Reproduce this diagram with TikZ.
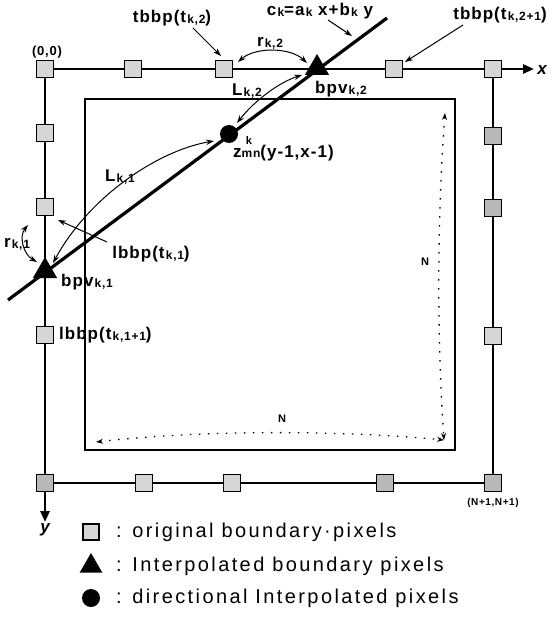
\documentclass[tikz,border=0pt]{standalone}
\usepackage{fontspec}
\setmainfont{Liberation Sans}
\newfontfamily\legfont[LetterSpace=12]{Liberation Sans}
\newfontfamily\lblfont[LetterSpace=6]{Liberation Sans Bold}
\usetikzlibrary{arrows.meta,shapes.geometric}
\newcommand{\sbx}[1]{\kern1.2pt\raisebox{-1pt}{\fontsize{12}{12}\selectfont #1}}
\tikzset{
  px/.style={draw=black, line width=1.5pt, fill=gray!32, minimum size=17pt, inner sep=0pt},
  pxd/.style={px, fill=gray!55},
  tri/.style={regular polygon, regular polygon sides=3, fill=black, minimum size=28pt, inner sep=0pt},
  dotn/.style={circle, fill=black, minimum size=18pt, inner sep=0pt},
  axis/.style={line width=2.6pt},
  lbl/.style={font=\lblfont\fontsize{17}{17}\selectfont, inner sep=0pt},
  smlbl/.style={font=\lblfont\fontsize{11}{11}\selectfont, inner sep=0pt},
  leg/.style={font=\legfont\fontsize{20}{20}\selectfont, inner sep=0pt, anchor=west},
  thinarrow/.style={line width=1pt, -{Stealth[length=8pt,width=5.5pt]}},
  darrow/.style={line width=1pt, {Stealth[length=8pt,width=5.5pt]}-{Stealth[length=8pt,width=5.5pt]}},
  dotline/.style={line width=1.3pt, dash pattern=on 1.5pt off 7.5pt, {Stealth[length=7pt,width=5pt]}-{Stealth[length=7pt,width=5pt]}}
}
\begin{document}
\begin{tikzpicture}[x=1pt,y=-1pt]
\useasboundingbox (0,0) rectangle (553,617);
% coordinates
\coordinate (c00) at (45,69);
\coordinate (ctr) at (493,69);
\coordinate (cbl) at (45,483);
\coordinate (cbr) at (493,483);
\coordinate (xend) at (534,69);
\coordinate (yend) at (45,522);
\coordinate (ck0) at (8,300);
\coordinate (ck1) at (387,18);
% inner rectangle
\draw[line width=1.1pt] (85,99) rectangle (455,450);
% axes and frame
\draw[axis,-{Triangle[length=11pt,width=9pt]}] (c00) -- (xend);
\draw[axis,-{Triangle[length=11pt,width=9pt]}] (c00) -- (yend);
\draw[axis] (ctr) -- (cbr);
\draw[axis] (cbl) -- (cbr);
% line c_k
\draw[line width=3.2pt] (ck0) -- (ck1);
% squares
\node[px] (t0) at (c00) {};
\node[px] (t1) at (133,69) {};
\node[px] (t2) at (224,69) {};
\node[px] (t3) at (394,69) {};
\node[px] (t4) at (ctr) {};
\node[px] (l1) at (45,133) {};
\node[px] (l2) at (45,207) {};
\node[px] (l3) at (45,335) {};
\node[pxd] (b0) at (cbl) {};
\node[px] (b1) at (144,483) {};
\node[px] (b2) at (232,483) {};
\node[pxd] (b3) at (385,483) {};
\node[pxd] (b4) at (cbr) {};
\node[pxd] (r1) at (493,136) {};
\node[pxd] (r2) at (493,208) {};
\node[px] (r3) at (493,336) {};
% interpolated points
\node[tri] (bpv2) at (317,68) {};
\node[tri] (bpv1) at (45,271) {};
\node[dotn] (z) at (229,134) {};
% axis labels
\node[lbl, font=\lblfont\itshape\fontsize{17}{17}\selectfont] (xl) at (542,70) {x};
\node[lbl, font=\lblfont\itshape\fontsize{17}{17}\selectfont] (yl) at (45,530) {y};
\node[lbl, font=\lblfont\fontsize{13}{13}\selectfont] (o) at (47,52) {(0,0)};
\node[smlbl, font=\lblfont\fontsize{10}{10}\selectfont] (nn) at (493,503) {(N+1,N+1)};
% labels
\node[lbl] (tbk2) at (172,18) {tbbp(t\sbx{k,2})};
\node[lbl] (ck) at (320,11) {c\sbx{k}=a\sbx{k} x+b\sbx{k} y};
\node[lbl] (tbk21) at (500,15) {tbbp(t\sbx{k,2+1})};
\node[lbl] (rk2) at (270,43) {r\sbx{k,2}};
\node[lbl] (bpvk2) at (341,89) {bpv\sbx{k,2}};
\node[lbl] (lk2) at (247,91) {L\sbx{k,2}};
\node[lbl, font=\lblfont\fontsize{11}{11}\selectfont] (zk) at (249,141) {k};
\node[lbl, anchor=west] (zl) at (233,153) {z{\fontsize{12}{12}\selectfont mn}(y-1,x-1)};
\node[lbl] (lk1) at (120,177) {L\sbx{k,1}};
\node[lbl] (lbk1) at (151,254) {lbbp(t\sbx{k,1})};
\node[lbl] (rk1) at (17,244) {r\sbx{k,1}};
\node[lbl] (bpvk1) at (87,282) {bpv\sbx{k,1}};
\node[lbl, anchor=west] (lbk11) at (59,335) {lbbp(t\sbx{k,1+1})};
\node[smlbl] (nv) at (425,262) {N};
\node[smlbl] (nh) at (282,419) {N};
% pointer arrows
\coordinate (a1) at (221,56);
\coordinate (a2) at (405,62);
\coordinate (a3) at (352,36);
\coordinate (a4) at (58,220);
\draw[thinarrow] (193,28) -- (a1);
\draw[thinarrow] (463,25) -- (a2);
\draw[thinarrow] (328,20) -- (a3);
\draw[thinarrow] (107,242) -- (a4);
% curved double arrows
\coordinate (r2a) at (238,62);
\coordinate (r2b) at (307,63);
\draw[darrow] (r2a) .. controls (255,47) and (290,47) .. (r2b);
\coordinate (l2a) at (302,75);
\coordinate (l2b) at (237,123);
\draw[darrow] (l2a) .. controls (280,82) and (255,100) .. (l2b);
\coordinate (l1a) at (214,141);
\coordinate (l1b) at (53,263);
\draw[darrow] (l1a) .. controls (160,150) and (90,195) .. (l1b);
\coordinate (r1a) at (28,225);
\coordinate (r1b) at (37,262);
\draw[darrow] (r1a) .. controls (19,236) and (23,254) .. (r1b);
% dimension arrows
\coordinate (dv) at (445,113);
\coordinate (dc) at (444,440);
\coordinate (dh) at (96,442);
\draw[dotline] (dv) .. controls (437,220) and (437,340) .. (dc);
\draw[dotline] (dh) .. controls (200,430) and (340,430) .. (dc);
% legend
\node[px, minimum size=16pt] (lgs) at (91,532) {};
\node[tri, minimum size=26pt] (lgt) at (91,566) {};
\node[dotn] (lgc) at (91,598) {};
\node[leg] (lg1) at (116,532) {: original boundary·pixels};
\node[leg] (lg2) at (116,566) {: Interpolated boundary pixels};
\node[leg] (lg3) at (116,598) {: directional Interpolated pixels};
\end{tikzpicture}
\end{document}
